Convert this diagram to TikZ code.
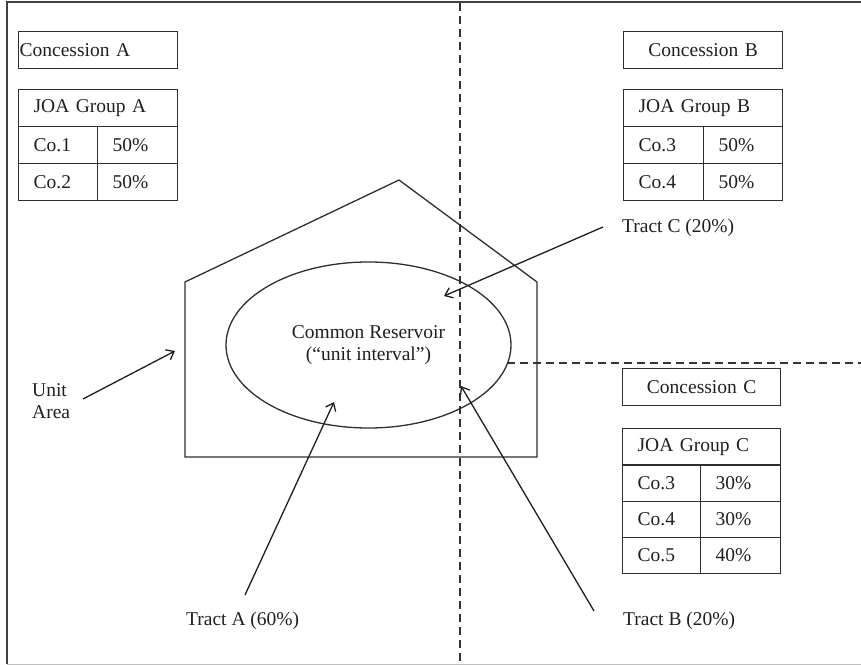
\documentclass[tikz,border=0pt]{standalone}
\usepackage{fontspec}
\setmainfont{Liberation Serif}
\usetikzlibrary{arrows.meta,shapes.geometric}
\begin{document}
\begin{tikzpicture}[x=1bp,y=-1bp,
  every node/.style={font=\fontsize{19.5bp}{22.5bp}\selectfont, text=black!88},
  ln/.style={draw=black!82, line width=1.3bp},
  cell/.style={ln, anchor=north west, minimum height=37bp, inner xsep=15bp, inner ysep=0pt, text width=#1, align=left},
  cellc/.style={cell=#1, minimum height=36.25bp},
  conc/.style={cell=#1, align=center},
  lbl/.style={inner sep=0pt, anchor=west},
  dsh/.style={draw=black!80, line width=1.4bp, dash pattern=on 8bp off 5bp},
  arr/.style={draw=black!88, line width=1.3bp, -{Straight Barb[length=7bp,width=11bp]}}
]
\useasboundingbox (0,0) rectangle (861,665);
% frame
\draw[draw=black!75, line width=1.4bp] (861,2) -- (7,2) -- (7,664);
\draw[draw=black!25, line width=1bp] (7,664) -- (861,664);
% dashed boundaries
\draw[dsh] (460,3) -- (460,665);
\draw[dsh] (507,363) -- (861,363);

% Concession A
\node[cell=157bp, inner xsep=1bp] (concA) at (18,31) {Concession A};
\node[cell=129bp] (joaA) at (18,89) {JOA Group A};
\node[cell=49bp] (a1) at (18,126) {Co.1};
\node[cell=50bp] (a1p) at (97,126) {50\%};
\node[cell=49bp] (a2) at (18,163) {Co.2};
\node[cell=50bp] (a2p) at (97,163) {50\%};

% Concession B
\node[conc=129bp] (concB) at (623,31) {Concession B};
\node[cell=129bp] (joaB) at (623,89) {JOA Group B};
\node[cell=50bp] (b1) at (623,126) {Co.3};
\node[cell=49bp] (b1p) at (703,126) {50\%};
\node[cell=50bp] (b2) at (623,163) {Co.4};
\node[cell=49bp] (b2p) at (703,163) {50\%};

% Concession C
\node[conc=128bp] (concC) at (622,368) {Concession C};
\node[cellc=128bp] (joaC) at (622,428) {JOA Group C};
\node[cellc=48bp] (c1) at (622,464.25) {Co.3};
\node[cellc=50bp] (c1p) at (700,464.25) {30\%};
\node[cellc=48bp] (c2) at (622,500.5) {Co.4};
\node[cellc=50bp] (c2p) at (700,500.5) {30\%};
\node[cellc=48bp] (c3) at (622,536.75) {Co.5};
\node[cellc=50bp] (c3p) at (700,536.75) {40\%};

% Unit area
\draw[ln] (185,282) -- (399,180) -- (537,282) -- (537,457) -- (185,457) -- cycle;
\node[ln, ellipse, minimum width=285bp, minimum height=166bp, align=center, inner sep=0pt] (res) at (368.5,345) {Common Reservoir\\(``unit interval'')};

% labels
\node[lbl, align=left] (ua) at (32,401) {Unit\\Area};
\node[lbl] (tc) at (622,228) {Tract C (20\%)};
\node[lbl] (tA) at (186,621) {Tract A (60\%)};
\node[lbl] (tB) at (623,621) {Tract B (20\%)};

% arrow ends
\coordinate (uaS) at (83,399);
\coordinate (uaE) at (175,351);
\coordinate (tcS) at (603,227);
\coordinate (tcE) at (444,296);
\coordinate (tAS) at (245,595);
\coordinate (tAE) at (334,402);
\coordinate (tBS) at (594,611);
\coordinate (tBE) at (461,386);

\draw[arr] (uaS) -- (uaE);
\draw[arr] (tcS) -- (tcE);
\draw[arr] (tAS) -- (tAE);
\draw[arr] (tBS) -- (tBE);
\end{tikzpicture}
\end{document}
